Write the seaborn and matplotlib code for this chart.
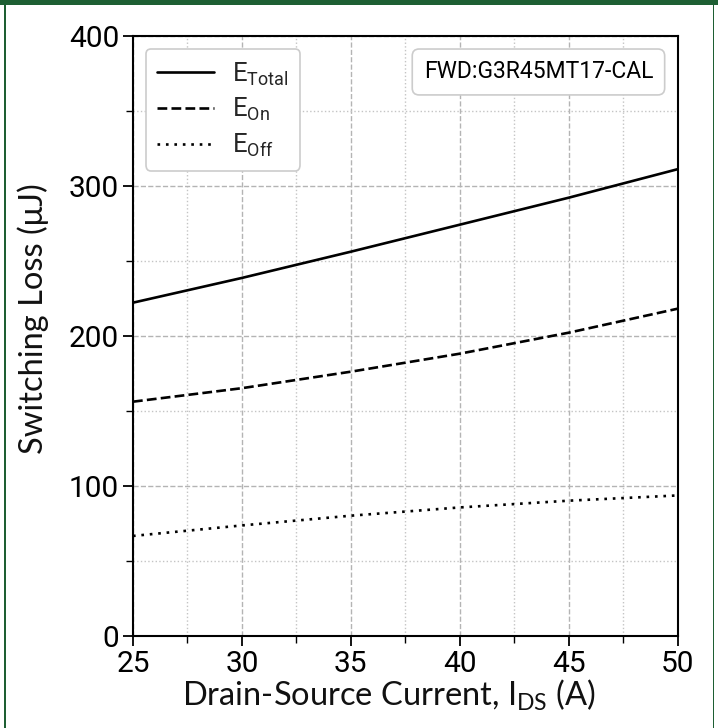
import numpy as np
import pandas as pd
import matplotlib
matplotlib.use("Agg")
import matplotlib.pyplot as plt
from matplotlib import font_manager
from matplotlib.patches import Rectangle
from matplotlib.ticker import MultipleLocator
import seaborn as sns

# ---- data ----
current = [25, 30, 35, 40, 45, 50]
e_total = [222, 238.5, 256, 274, 292, 311]
e_on = [156, 165, 176, 188, 202, 218]
e_off = [66.5, 73.5, 80, 85.5, 90, 93.5]
series_names = ["E$_{\\mathregular{Total}}$", "E$_{\\mathregular{On}}$", "E$_{\\mathregular{Off}}$"]
x_ticks = [25, 30, 35, 40, 45, 50]
y_ticks = [0, 100, 200, 300, 400]
annotation = "FWD:G3R45MT17-CAL"
x_label = "Drain-Source Current, I$_{\\mathregular{DS}}$ (A)"
y_label = "Switching Loss (μJ)"

df = pd.DataFrame({
    "I": current * 3,
    "E": e_total + e_on + e_off,
    "series": [series_names[0]] * 6 + [series_names[1]] * 6 + [series_names[2]] * 6,
})

sns.set_theme(style="white")
avail = {f.name for f in font_manager.fontManager.ttflist}
narrow = "Liberation Sans Narrow" if "Liberation Sans Narrow" in avail else "Roboto"
plt.rcParams["font.family"] = ["Lato", "DejaVu Sans"]
plt.rcParams["mathtext.fontset"] = "custom"

fig = plt.figure(figsize=(7.18, 7.28), dpi=100)
ax = fig.add_axes([0.1852, 0.1268, 0.9439 - 0.1852, 0.951 - 0.1268])

sns.lineplot(data=df, x="I", y="E", style="series", color="black",
             dashes={series_names[0]: "", series_names[1]: (3.7, 1.6), series_names[2]: (1, 2.2)},
             linewidth=1.9, ax=ax, legend=False, sort=False)

ax.set_xlim(25, 50)
ax.set_ylim(0, 400)
ax.set_xticks(x_ticks)
ax.set_yticks(y_ticks)
ax.xaxis.set_minor_locator(MultipleLocator(2.5))
ax.yaxis.set_minor_locator(MultipleLocator(50))
ax.grid(True, which="major", linestyle="--", color="#b4b4b4", linewidth=1.0)
ax.grid(True, which="minor", linestyle=":", color="#c4c4c4", linewidth=1.0)
ax.set_axisbelow(True)
for s in ax.spines.values():
    s.set_color("black")
    s.set_linewidth(1.5)
ax.tick_params(which="major", direction="out", length=7, width=1.3, color="black",
               bottom=True, left=True, pad=3)
ax.tick_params(which="minor", direction="out", length=5, width=1.0, color="black",
               bottom=True, left=True)
for lab in ax.get_xticklabels() + ax.get_yticklabels():
    lab.set_fontfamily(narrow)
    lab.set_fontsize(21.5)
    lab.set_color("black")

ax.set_xlabel(x_label, fontsize=23.5, color="#111111")
ax.set_ylabel(y_label, fontsize=23.5, color="#111111")
ax.xaxis.set_label_coords(0.47, -0.07)
ax.yaxis.set_label_coords(-0.155, 0.528)

# legend
handles = [plt.Line2D([], [], color="black", linewidth=1.9, linestyle=ls)
           for ls in ["-", (0, (3.7, 1.6)), (0, (1, 2.2))]]
leg = ax.legend(handles, series_names, loc="upper left", frameon=True, fancybox=True,
                prop={"family": narrow, "size": 18.5}, handlelength=2.2, labelspacing=0.32,
                borderpad=0.45, handletextpad=0.7, bbox_to_anchor=(0.0, 1.0),
                borderaxespad=0.5)
leg.get_frame().set_edgecolor("#cccccc")
leg.get_frame().set_linewidth(1.2)
leg.get_frame().set_alpha(1.0)

ax.text(0.955, 0.9395, annotation, transform=ax.transAxes, ha="right", va="center",
        fontsize=16.5, family=narrow, color="black",
        bbox=dict(boxstyle="round,pad=0.5,rounding_size=0.3", facecolor="white",
                  edgecolor="#cccccc", linewidth=1.2))

# green frame
green = "#1e5f33"
fig.patches.append(Rectangle((0, 1 - 5 / 728), 1, 5 / 728, transform=fig.transFigure,
                             facecolor=green, edgecolor="none"))
fig.patches.append(Rectangle((4 / 718, 0), 1.6 / 718, 1, transform=fig.transFigure,
                             facecolor=green, edgecolor="none"))
fig.patches.append(Rectangle((712.5 / 718, 0), 1.6 / 718, 1, transform=fig.transFigure,
                             facecolor=green, edgecolor="none"))

fig.savefig("out.png", dpi=100)
